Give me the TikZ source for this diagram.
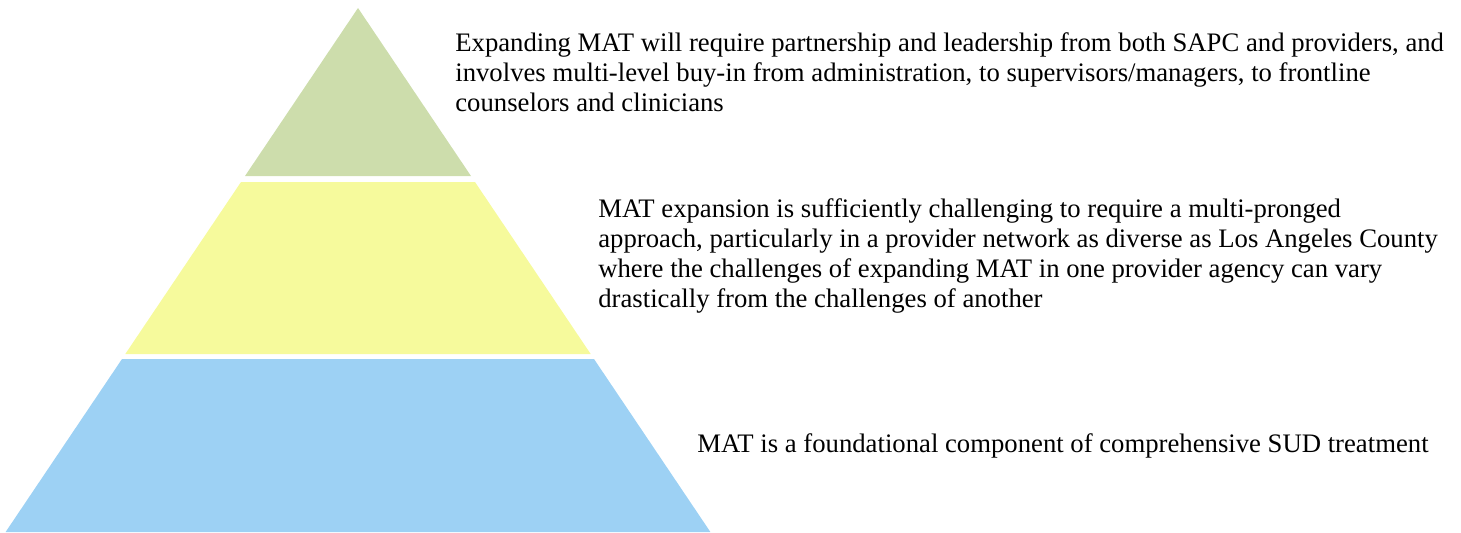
\documentclass[tikz,border=0pt]{standalone}
\usepackage{fontspec}
\setmainfont{Liberation Serif}

\definecolor{tiergreen}{RGB}{205,221,172}
\definecolor{tieryellow}{RGB}{246,250,156}
\definecolor{tierblue}{RGB}{157,209,244}

\begin{document}
\begin{tikzpicture}[x=0.02cm,y=-0.02cm,
  tiertext/.style={anchor=west,align=left,inner sep=0pt,
    font=\fontsize{15.2}{17.07}\selectfont}]
\useasboundingbox (0,0) rectangle (1461,532);

%draws the three tiers of the pyramid
\fill[tiergreen] (358,8) -- (471,176) -- (245,176) -- cycle;
\fill[tieryellow] (241,182) -- (475,182) -- (590.7,354) -- (125.3,354) -- cycle;
\fill[tierblue] (122,359) -- (594,359) -- (710.4,532) -- (5.6,532) -- cycle;

%text beside each tier
\node[tiertext] (toptier) at (455,72)
  {Expanding MAT will require partnership and leadership from both SAPC and providers, and\\
   involves multi-level buy-in from administration, to supervisors/managers, to frontline\\
   counselors and clinicians};
\node[tiertext] (midtier) at (598,256)
  {MAT expansion is sufficiently challenging to require a multi-pronged\\
   approach, particularly in a provider network as diverse as Los Angeles County\\
   where the challenges of expanding MAT in one provider agency can vary\\
   drastically from the challenges of another};
\node[tiertext] (basetier) at (697,446)
  {MAT is a foundational component of comprehensive SUD treatment};
\end{tikzpicture}
\end{document}
